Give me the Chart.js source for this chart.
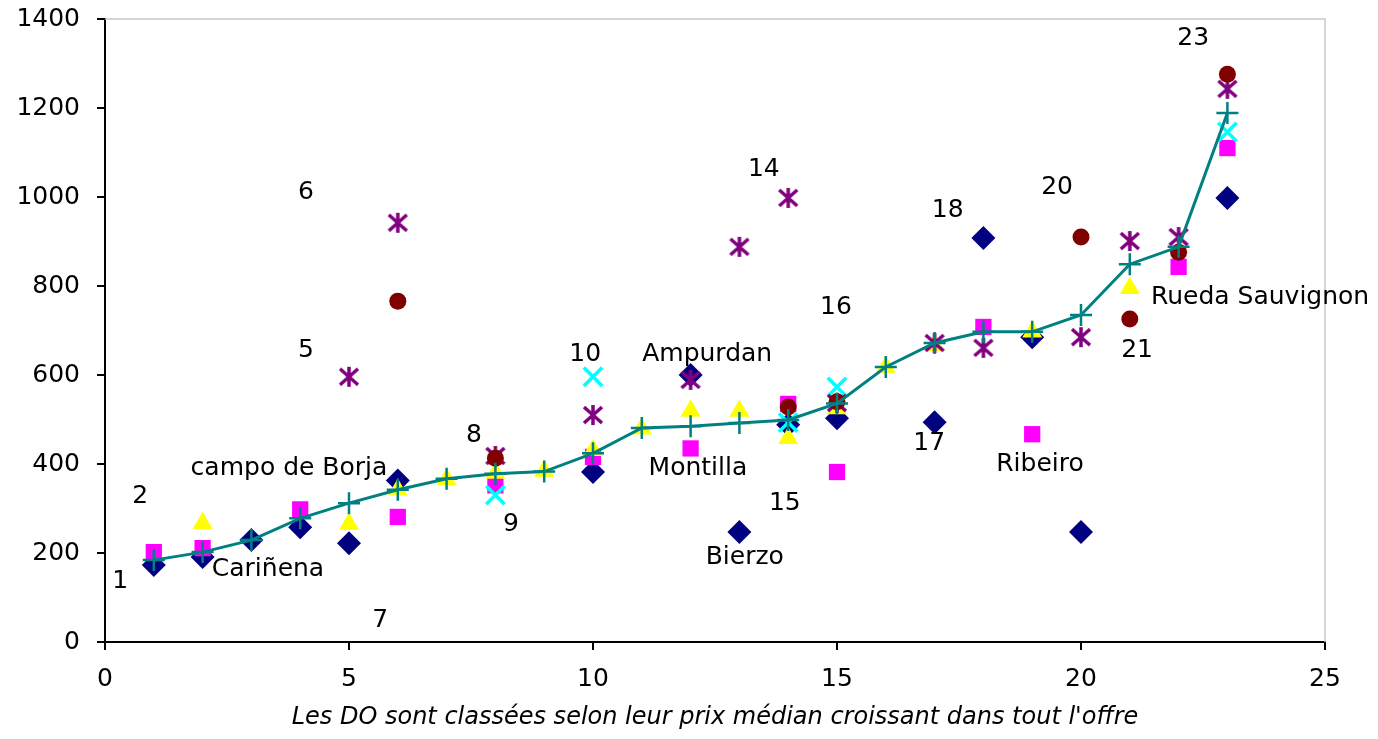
<!DOCTYPE html>
<html lang="fr">
<head>
<meta charset="UTF-8">
<title>Prix des DO</title>
<script src="https://cdn.jsdelivr.net/npm/chart.js"></script>
<style>
  html, body { margin: 0; padding: 0; background: #fff; }
  #wrap { width: 1378px; height: 739px; }
</style>
</head>
<body>
<div id="wrap"><canvas id="doChart" width="1378" height="739"></canvas></div>
<script>
// rang des DO (classées par prix médian)
const rangs = [1, 2, 3, 4, 5, 6, 7, 8, 9, 10, 11, 12, 13, 14, 15, 16, 17, 18, 19, 20, 21, 22, 23];

const mediane  = [184, 202, 229, 278, 312, 342, 367, 378, 383, 424, 481, 485, 492, 499, 536, 618, 672, 697, 697, 735, 849, 888, 1189];
const losanges = [173, 191, 229, 258, 222, 363, null, null, null, 382, null, 600, 247, 488, 503, null, 494, 908, 685, 247, null, null, 998];
const carres   = [202, 211, null, 298, null, 281, null, 352, null, 416, null, 435, null, 535, 382, null, null, 708, 467, null, null, 843, 1110];
const triangles = [null, 267, null, null, 265, 342, 366, 380, 384, 431, 479, 519, 519, 458, 525, 618, 667, null, 697, null, 795, null, null];
const croix    = [null, null, null, null, null, null, null, 330, null, 596, null, null, null, 493, 573, null, null, null, null, null, null, null, 1146];
const etoiles  = [null, null, null, null, 596, 942, null, 418, null, 510, null, 589, 888, 998, 537, null, 672, 661, null, 685, 901, 910, 1243];
const ronds    = [null, null, null, null, null, 766, null, 413, null, null, null, null, null, 528, 540, null, null, null, null, 910, 726, 876, 1276];

// étiquettes posées dans le graphique (coordonnées en unités des axes)
const etiquettes = [
  { t: '1', x: 0.31, y: 135 },
  { t: '2', x: 0.72, y: 326 },
  { t: 'Cariñena', x: 3.34, y: 162 },
  { t: 'campo de Borja', x: 3.77, y: 391 },
  { t: '7', x: 5.64, y: 49 },
  { t: '5', x: 4.12, y: 656 },
  { t: '6', x: 4.12, y: 1009 },
  { t: '8', x: 7.56, y: 463 },
  { t: '9', x: 8.32, y: 263 },
  { t: '10', x: 9.84, y: 645 },
  { t: 'Ampurdan', x: 12.34, y: 645 },
  { t: 'Montilla', x: 12.15, y: 391 },
  { t: '14', x: 13.5, y: 1061 },
  { t: '15', x: 13.93, y: 312 },
  { t: 'Bierzo', x: 13.11, y: 189 },
  { t: '16', x: 14.98, y: 751 },
  { t: '17', x: 16.89, y: 445 },
  { t: '18', x: 17.27, y: 969 },
  { t: 'Ribeiro', x: 19.16, y: 398 },
  { t: '20', x: 19.51, y: 1022 },
  { t: '21', x: 21.15, y: 656 },
  { t: 'Rueda Sauvignon', x: 23.67, y: 775 },
  { t: '23', x: 22.3, y: 1357 }
];

const FONT = 'DejaVu Sans';

function pts(values) {
  const out = [];
  values.forEach((v, i) => { if (v !== null) out.push({ x: rangs[i], y: v }); });
  return out;
}

// astérisque à 6 branches (pas dispo dans Chart.js)
function asterisque(color) {
  const c = document.createElement('canvas');
  c.width = 22; c.height = 22;
  const g = c.getContext('2d');
  g.strokeStyle = color;
  g.lineWidth = 3.5;
  g.beginPath();
  g.moveTo(11, 1); g.lineTo(11, 21);
  g.moveTo(2, 3); g.lineTo(20, 19);
  g.moveTo(20, 3); g.lineTo(2, 19);
  g.stroke();
  return c;
}

const etiquettesPlugin = {
  id: 'etiquettes',
  afterDatasetsDraw(chart) {
    const { ctx, scales } = chart;
    ctx.save();
    ctx.font = '25px "' + FONT + '"';
    ctx.fillStyle = '#000';
    ctx.textAlign = 'center';
    ctx.textBaseline = 'middle';
    etiquettes.forEach(e => {
      ctx.fillText(e.t, scales.x.getPixelForValue(e.x), scales.y.getPixelForValue(e.y));
    });
    ctx.restore();
  }
};

const cadrePlugin = {
  id: 'cadre',
  beforeDatasetsDraw(chart) {
    const { ctx, chartArea: a } = chart;
    ctx.save();
    ctx.strokeStyle = '#c8c8c8';
    ctx.lineWidth = 1.5;
    ctx.beginPath();
    ctx.moveTo(a.left, a.top);
    ctx.lineTo(a.right, a.top);
    ctx.lineTo(a.right, a.bottom);
    ctx.stroke();
    ctx.restore();
  }
};

const ctx = document.getElementById('doChart').getContext('2d');
const doChart = new Chart(ctx, {
  type: 'scatter',
  data: {
    datasets: [
      {
        label: 'médiane',
        data: pts(mediane),
        showLine: true,
        borderColor: '#008080',
        borderWidth: 3,
        pointStyle: 'cross',
        pointRadius: 11,
        pointBorderWidth: 2.5,
        pointBorderColor: '#008080',
        order: 1
      },
      {
        label: 'ronds',
        data: pts(ronds),
        pointStyle: 'circle',
        pointRadius: 8.5,
        backgroundColor: '#800000',
        borderColor: '#800000',
        pointBorderWidth: 0,
        order: 2
      },
      {
        label: 'étoiles',
        data: pts(etoiles),
        pointStyle: asterisque('#800080'),
        order: 3
      },
      {
        label: 'croix',
        data: pts(croix),
        pointStyle: 'crossRot',
        pointRadius: 13,
        pointBorderWidth: 3.5,
        borderColor: '#00ffff',
        order: 4
      },
      {
        label: 'triangles',
        data: pts(triangles),
        pointStyle: 'triangle',
        pointRadius: 11.5,
        backgroundColor: '#ffff00',
        borderColor: '#ffff00',
        pointBorderWidth: 0,
        order: 5
      },
      {
        label: 'carrés',
        data: pts(carres),
        pointStyle: 'rect',
        pointRadius: 11.5,
        backgroundColor: '#ff00ff',
        borderColor: '#ff00ff',
        pointBorderWidth: 0,
        order: 6
      },
      {
        label: 'losanges',
        data: pts(losanges),
        pointStyle: 'rectRot',
        pointRadius: 12,
        backgroundColor: '#000080',
        borderColor: '#000080',
        pointBorderWidth: 0,
        order: 7
      }
    ]
  },
  options: {
    responsive: false,
    animation: false,
    layout: { autoPadding: false, padding: { left: 0, top: 19, right: 53, bottom: 0 } },
    plugins: {
      legend: { display: false },
      tooltip: { enabled: false }
    },
    scales: {
      x: {
        type: 'linear',
        min: 0,
        max: 25,
        afterFit(scale) { scale.height = 97; },
        ticks: {
          stepSize: 5,
          padding: 14,
          color: '#000',
          font: { family: FONT, size: 25 },
          callback: v => String(v)
        },
        grid: { drawOnChartArea: false, drawTicks: true, tickLength: 8, color: '#000', lineWidth: 2 },
        border: { color: '#000', width: 2 },
        title: {
          display: true,
          text: "Les DO sont classées selon leur prix médian croissant dans tout l'offre",
          color: '#000',
          font: { family: FONT, size: 24, style: 'italic' },
          padding: { top: 0, bottom: 7 }
        }
      },
      y: {
        min: 0,
        max: 1400,
        afterFit(scale) {
          scale.width = 105;
          scale.paddingTop = 0;
          scale.paddingBottom = 0;
        },
        ticks: {
          stepSize: 200,
          padding: 17,
          color: '#000',
          font: { family: FONT, size: 25 },
          callback: v => String(v)
        },
        grid: { drawOnChartArea: false, drawTicks: true, tickLength: 8, color: '#000', lineWidth: 2 },
        border: { color: '#000', width: 2 }
      }
    }
  },
  plugins: [cadrePlugin, etiquettesPlugin]
});
</script>
</body>
</html>
